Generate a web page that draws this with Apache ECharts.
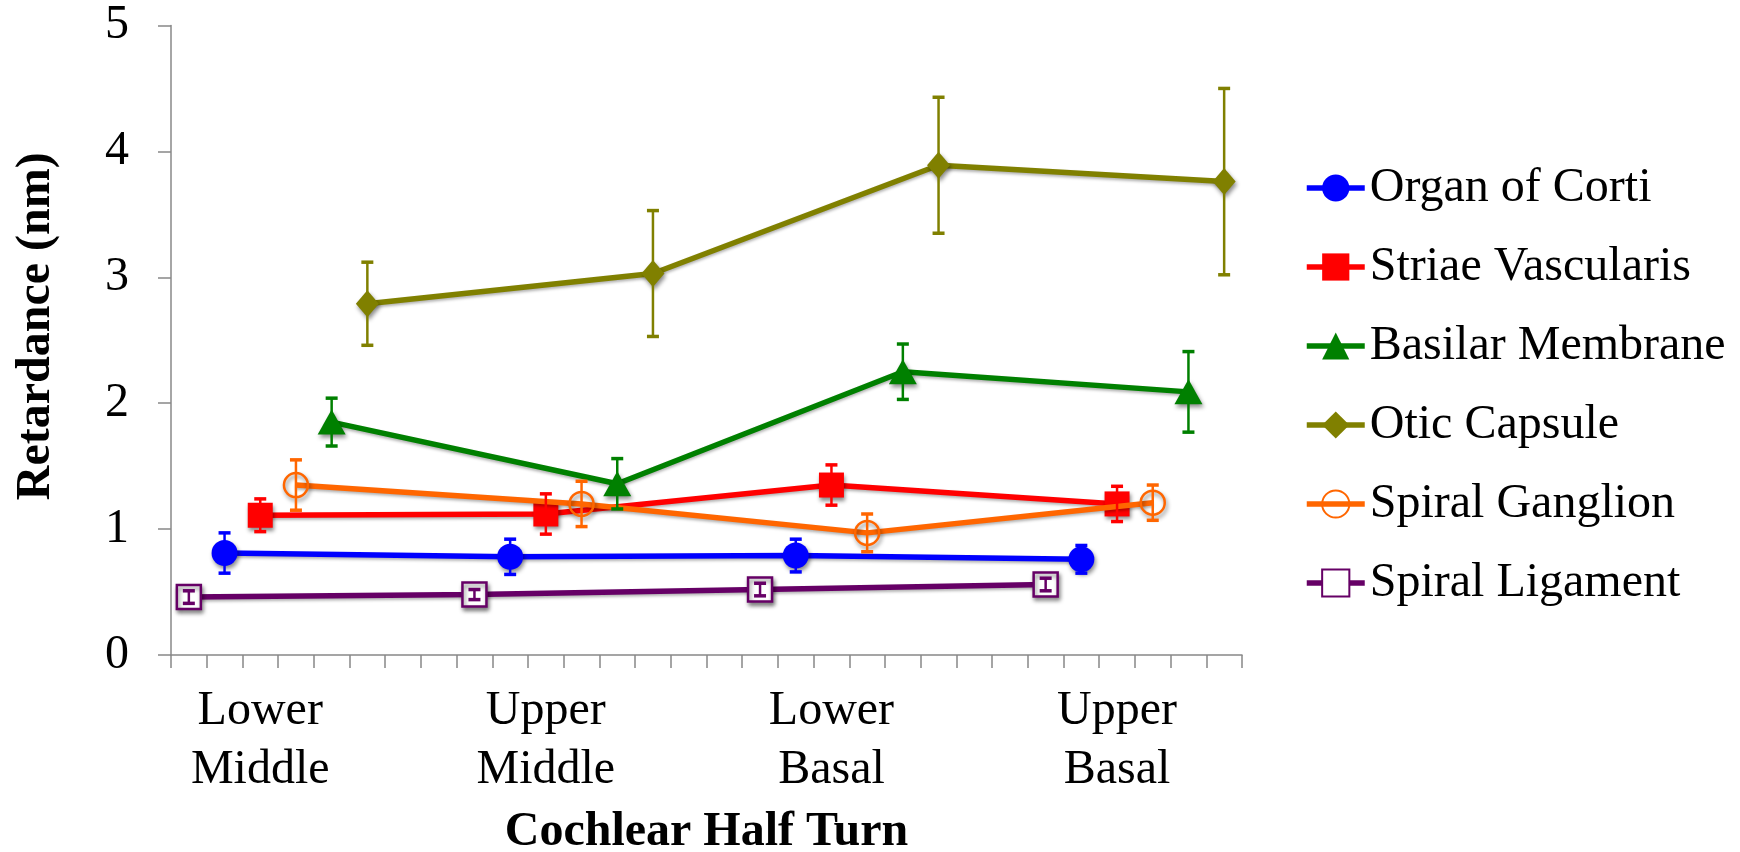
<!DOCTYPE html>
<html><head><meta charset="utf-8">
<script src="https://cdn.jsdelivr.net/npm/echarts@6/dist/echarts.min.js"></script>
<style>html,body{margin:0;padding:0;background:#fff}#c{width:1740px;height:852px}</style>
</head><body><div id="c"></div>
<script>
// ---- data ----
const groupLabels = ['Lower\nMiddle', 'Upper\nMiddle', 'Lower\nBasal', 'Upper\nBasal'];
const groupStart = [0, 8, 16, 24];
const categoryCount = 30;
const labelOffset = 2;

const seriesNames = ['Organ of Corti', 'Striae Vascularis', 'Basilar Membrane', 'Otic Capsule', 'Spiral Ganglion', 'Spiral Ligament'];
const seriesOffset = [1, 2, 4, 5, 3, 0];

const organOfCorti     = [0.81, 0.78, 0.79, 0.76];
const organOfCortiErr  = [0.16, 0.14, 0.13, 0.11];
const striaeVascularis    = [1.11, 1.12, 1.35, 1.20];
const striaeVascularisErr = [0.13, 0.16, 0.16, 0.14];
const basilarMembrane    = [1.85, 1.36, 2.25, 2.09];
const basilarMembraneErr = [0.19, 0.20, 0.22, 0.32];
const oticCapsule    = [2.79, 3.03, 3.89, 3.76];
const oticCapsuleErr = [0.33, 0.50, 0.54, 0.74];
const spiralGanglion    = [1.35, 1.20, 0.97, 1.21];
const spiralGanglionErr = [0.20, 0.18, 0.15, 0.14];
const spiralLigament    = [0.46, 0.48, 0.52, 0.56];
const spiralLigamentErr = [0.05, 0.04, 0.05, 0.05];

const yTicks = {min: 0, max: 5, interval: 1};

const allValues = [organOfCorti, striaeVascularis, basilarMembrane, oticCapsule, spiralGanglion, spiralLigament];
const allErrors = [organOfCortiErr, striaeVascularisErr, basilarMembraneErr, oticCapsuleErr, spiralGanglionErr, spiralLigamentErr];

// ---- styles ----
const FONT = 'Liberation Serif';
const styles = [
  {color: '#0000FF', symbol: 'circle',   size: 26, fill: '#0000FF'},
  {color: '#FF0000', symbol: 'rect',     size: 25, fill: '#FF0000'},
  {color: '#008000', symbol: 'triangle', size: [28, 25], fill: '#008000'},
  {color: '#808000', symbol: 'diamond',  size: [23, 27], fill: '#808000'},
  {color: '#FF6600', symbol: 'circle',   size: 24, fill: 'rgba(255,255,255,0)', border: 2.5},
  {color: '#660066', symbol: 'rect',     size: 24, fill: '#FFFFFF', border: 2.5}
];

const categories = [];
for (let i = 0; i < categoryCount; i++) categories.push('');
groupStart.forEach((s, g) => { categories[s + labelOffset] = groupLabels[g]; });

const series = [];
seriesNames.forEach((name, k) => {
  const st = styles[k];
  series.push({
    name: name,
    type: 'line',
    data: allValues[k].map((v, g) => [groupStart[g] + seriesOffset[k], v]),
    symbol: st.symbol,
    symbolSize: st.size,
    lineStyle: {color: st.color, width: 5.5, shadowColor: 'rgba(0,0,0,0.3)', shadowBlur: 3, shadowOffsetY: 2},
    itemStyle: {color: st.fill, borderColor: st.color, borderWidth: st.border || 0,
      shadowColor: 'rgba(0,0,0,0.45)', shadowBlur: 4, shadowOffsetX: 1.5, shadowOffsetY: 3},
    emphasis: {disabled: true},
    z: 2 + k,
    animation: false
  });
});
seriesNames.forEach((name, k) => {
  const st = styles[k];
  series.push({
    name: name + ' error',
    type: 'custom',
    data: allValues[k].map((v, g) => [groupStart[g] + seriesOffset[k], v - allErrors[k][g], v + allErrors[k][g]]),
    encode: {x: 0, y: [1, 2]},
    z: 20 + k,
    animation: false,
    renderItem: function (params, api) {
      const x = api.value(0);
      const pLo = api.coord([x, api.value(1)]);
      const pHi = api.coord([x, api.value(2)]);
      const hw = 6;
      const c = st.color;
      return {type: 'group', children: [
        {type: 'line', shape: {x1: pHi[0], y1: pHi[1], x2: pLo[0], y2: pLo[1]}, style: {stroke: c, lineWidth: 2.5}},
        {type: 'line', shape: {x1: pHi[0] - hw, y1: pHi[1], x2: pHi[0] + hw, y2: pHi[1]}, style: {stroke: c, lineWidth: 3.5}},
        {type: 'line', shape: {x1: pLo[0] - hw, y1: pLo[1], x2: pLo[0] + hw, y2: pLo[1]}, style: {stroke: c, lineWidth: 3.5}}
      ]};
    }
  });
});

const chart = echarts.init(document.getElementById('c'), null, {renderer: 'canvas'});
chart.setOption({
  backgroundColor: '#ffffff',
  animation: false,
  grid: {left: 171, right: 498, top: 25.5, bottom: 197, containLabel: false, outerBoundsMode: 'none'},
  legend: {
    data: seriesNames,
    orient: 'vertical',
    left: 1299,
    top: 159,
    itemWidth: 58,
    itemHeight: 34,
    itemGap: 31,
    lineStyle: {width: 5.5},
    textStyle: {fontFamily: FONT, fontSize: 48, color: '#000', lineHeight: 48}
  },
  xAxis: {
    type: 'category',
    data: categories,
    boundaryGap: true,
    name: 'Cochlear Half Turn',
    nameLocation: 'middle',
    nameGap: 154,
    nameTextStyle: {fontFamily: FONT, fontSize: 48, fontWeight: 'bold', color: '#000'},
    axisLine: {lineStyle: {color: '#888888', width: 1.5}},
    axisTick: {show: true, interval: 0, length: 13, lineStyle: {color: '#888888', width: 1.5}},
    axisLabel: {interval: 0, margin: 27, fontFamily: FONT, fontSize: 48, lineHeight: 59, color: '#000'},
    splitLine: {show: false}
  },
  yAxis: {
    type: 'value',
    min: yTicks.min, max: yTicks.max, interval: yTicks.interval,
    name: 'Retardance (nm)',
    nameLocation: 'middle',
    nameGap: 110,
    nameTextStyle: {fontFamily: FONT, fontSize: 48, fontWeight: 'bold', color: '#000', padding: [0, 0, 0, 28]},
    axisLine: {show: true, lineStyle: {color: '#888888', width: 1.5}},
    axisTick: {show: true, length: 13, lineStyle: {color: '#888888', width: 1.5}},
    axisLabel: {margin: 42, fontFamily: FONT, fontSize: 48, color: '#000'},
    splitLine: {show: false}
  },
  series: series
});
</script></body></html>
